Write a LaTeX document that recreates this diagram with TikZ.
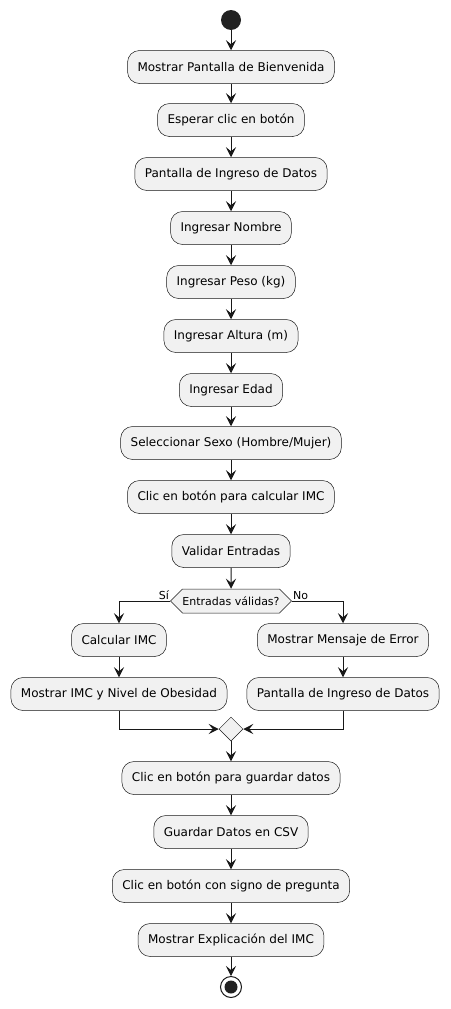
\documentclass[tikz,border=0pt]{standalone}
\usepackage{fontspec}
\setmainfont{DejaVu Sans}
\usetikzlibrary{shapes.geometric,shapes.symbols,arrows.meta}
\definecolor{umlfill}{HTML}{F1F1F1}
\definecolor{umlline}{HTML}{181818}
\definecolor{umldot}{HTML}{222222}
\tikzset{
  action/.style={rectangle, rounded corners=12pt, draw=umlline, line width=0.5pt,
                 fill=umlfill, minimum height=33pt, inner xsep=10pt, inner ysep=0pt,
                 font=\fontsize{12}{14}\selectfont},
  decision/.style={signal, signal to=west and east, signal pointer angle=90,
                   draw=umlline, line width=0.5pt, fill=umlfill, inner xsep=0pt,
                   inner ysep=0pt, minimum height=24pt, font=\fontsize{11}{13}\selectfont},
  merge/.style={diamond, draw=umlline, line width=0.5pt, fill=umlfill,
                minimum size=24pt, inner sep=0pt},
  flow/.style={-{Stealth[length=10pt,width=10pt,inset=4pt]}, line width=1pt, umlline},
  guard/.style={font=\fontsize{11}{13}\selectfont, inner sep=1pt},
}
\begin{document}
\begin{tikzpicture}[x=1pt, y=-1pt]
  \useasboundingbox (0,0) rectangle (450,1009);
  % Start and first screens
  \node[circle, fill=umldot, minimum size=20pt, inner sep=0pt] (start) at (231,20) {};
  \node[action] (bienvenida) at (231,67) {Mostrar Pantalla de Bienvenida};
  \node[action] (esperar) at (231,120) {Esperar clic en botón};
  \node[action] (ingreso) at (231,174) {Pantalla de Ingreso de Datos};
  % Data entry
  \node[action] (nombre) at (231,228) {Ingresar Nombre};
  \node[action] (peso) at (231,282) {Ingresar Peso (kg)};
  \node[action] (altura) at (231,336) {Ingresar Altura (m)};
  \node[action] (edad) at (231,390) {Ingresar Edad};
  \node[action] (sexo) at (231,443) {Seleccionar Sexo (Hombre/Mujer)};
  \node[action] (calcclic) at (231,497) {Clic en botón para calcular IMC};
  \node[action] (validar) at (231,551) {Validar Entradas};
  % Decision
  \node[decision] (valida) at (231,601) {Entradas válidas?};
  \node[action] (calcular) at (119,640) {Calcular IMC};
  \node[action] (mostrarimc) at (119,694) {Mostrar IMC y Nivel de Obesidad};
  \node[action] (error) at (343,640) {Mostrar Mensaje de Error};
  \node[action] (reingreso) at (343,694) {Pantalla de Ingreso de Datos};
  \node[merge] (union) at (231,729) {};
  % Closing steps
  \node[action] (guardclic) at (231,778) {Clic en botón para guardar datos};
  \node[action] (csv) at (231,832) {Guardar Datos en CSV};
  \node[action] (pregclic) at (231,886) {Clic en botón con signo de pregunta};
  \node[action] (explica) at (231,940) {Mostrar Explicación del IMC};
  \node[circle, draw=umlline, line width=1pt, fill=white, minimum size=21pt, inner sep=0pt,
        path picture={\fill[umldot] (path picture bounding box.center) circle (6.5pt);}]
        (stop) at (231,987) {};
  % Connectors
  \draw[flow] (start) -- (bienvenida);
  \draw[flow] (bienvenida) -- (esperar);
  \draw[flow] (esperar) -- (ingreso);
  \draw[flow] (ingreso) -- (nombre);
  \draw[flow] (nombre) -- (peso);
  \draw[flow] (peso) -- (altura);
  \draw[flow] (altura) -- (edad);
  \draw[flow] (edad) -- (sexo);
  \draw[flow] (sexo) -- (calcclic);
  \draw[flow] (calcclic) -- (validar);
  \draw[flow] (validar) -- (valida);
  \draw[flow] (valida.west) -| (calcular);
  \draw[flow] (valida.east) -| (error);
  \node[guard, anchor=south east] at (valida.west) {Sí};
  \node[guard, anchor=south west] at (valida.east) {No};
  \draw[flow] (calcular) -- (mostrarimc);
  \draw[flow] (error) -- (reingreso);
  \draw[flow] (mostrarimc) |- (union);
  \draw[flow] (reingreso) |- (union);
  \draw[flow] (union) -- (guardclic);
  \draw[flow] (guardclic) -- (csv);
  \draw[flow] (csv) -- (pregclic);
  \draw[flow] (pregclic) -- (explica);
  \draw[flow] (explica) -- (stop);
\end{tikzpicture}
\end{document}
